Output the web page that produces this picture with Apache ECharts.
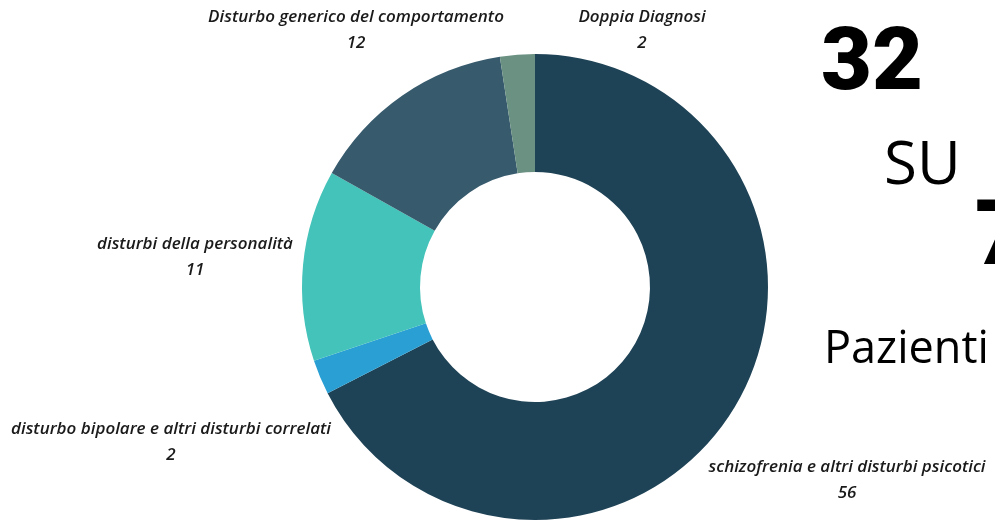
<!DOCTYPE html>
<html>
<head>
<meta charset="utf-8">
<script src="https://cdn.jsdelivr.net/npm/echarts@6/dist/echarts.min.js"></script>
<style>
  html, body { margin: 0; padding: 0; background: #fff; }
  #chart { width: 995px; height: 525px; }
</style>
</head>
<body>
<div id="chart"></div>
<script>
// diagnosi e numero pazienti
const categories = [
  'schizofrenia e altri disturbi psicotici',
  'disturbo bipolare e altri disturbi correlati',
  'disturbi della personalità',
  'Disturbo generico del comportamento',
  'Doppia Diagnosi'
]
const values = [56, 2, 11, 12, 2]
const colors = ['#1f4356', '#2a9fd4', '#43c3b9', '#375b6d', '#6a9182']

// posizione delle etichette (centro del blocco di testo)
const labelPos = [[847, 480], [171, 442], [195, 257], [356, 30], [642, 30]]

const chart = echarts.init(document.getElementById('chart'))

const txt = { fontFamily: 'Open Sans', fontStyle: 'italic', fontWeight: 600, fontSize: 17, color: '#1a1a1a', lineHeight: 26, align: 'center' }

const option = {
  animation: false,
  series: [{
    type: 'pie',
    center: [535, 287],
    radius: [115, 233],
    startAngle: 90,
    clockwise: true,
    data: categories.map((name, i) => ({
      name: name,
      value: values[i],
      itemStyle: { color: colors[i] }
    })),
    label: {
      show: true,
      position: 'inside',
      overflow: 'none',
      formatter: '{n|{b}}\n{v|{c}}',
      rich: { n: txt, v: txt }
    },
    labelLine: { show: false },
    labelLayout: function (params) {
      const p = labelPos[params.dataIndex]
      return { x: p[0], y: p[1], align: 'center', verticalAlign: 'middle', rotate: 0 }
    }
  }],
  graphic: [
    { type: 'text', left: 821, top: 23, style: { text: '32', font: '900 88px Roboto', fill: '#000' } },
    { type: 'text', left: 884, top: 137, style: { text: 'SU', font: '400 60px "Open Sans"', fill: '#000' } },
    { type: 'text', left: 975, top: 196, style: { text: '76', font: '900 90px Roboto', fill: '#000' } },
    { type: 'text', left: 824, top: 328, style: { text: 'Pazienti', font: '400 45px "Open Sans"', fill: '#000' } }
  ]
}

chart.setOption(option)
</script>
</body>
</html>
